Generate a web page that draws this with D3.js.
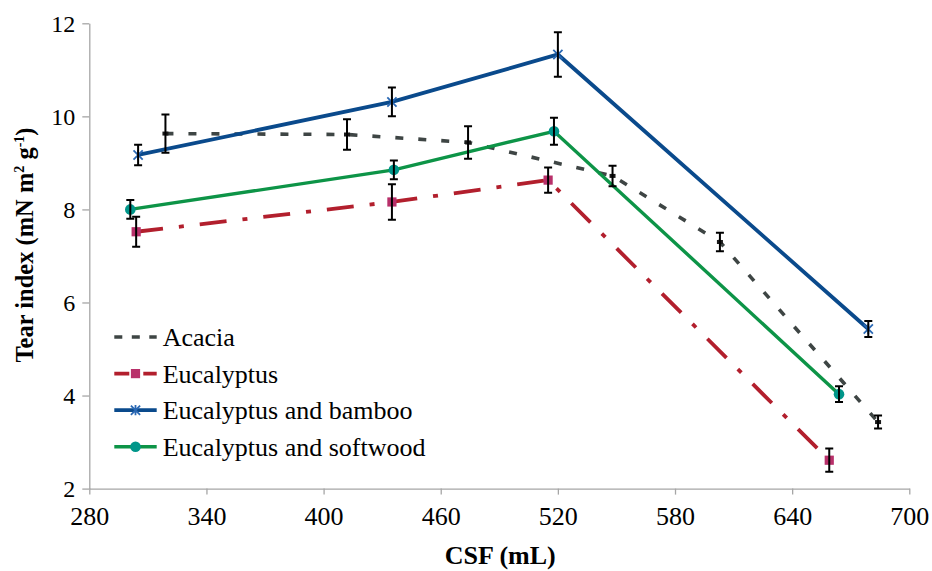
<!DOCTYPE html>
<html>
<head>
<meta charset="utf-8">
<script src="https://cdn.jsdelivr.net/npm/d3@7"></script>
<style>
  html, body { margin: 0; padding: 0; background: #fff; }
  svg { display: block; font-family: "Liberation Serif", "Times New Roman", serif; }
</style>
</head>
<body>
<svg id="chart" width="932" height="571"></svg>
<script>
// Tear index against CSF for four pulp furnishes (mean ± error)
const seriesNames = ["Acacia", "Eucalyptus", "Eucalyptus and bamboo", "Eucalyptus and softwood"];

const acaciaCsf  = [319, 412, 474, 548, 603, 684];
const acaciaTear = [9.63, 9.61, 9.44, 8.72, 7.30, 3.43];
const acaciaErr  = [0.41, 0.33, 0.35, 0.22, 0.20, 0.14];

const eucCsf  = [304, 435, 515, 659];
const eucTear = [7.52, 8.16, 8.63, 2.61];
const eucErr  = [0.32, 0.38, 0.27, 0.25];

const bambooCsf  = [305, 435, 520, 679];
const bambooTear = [9.17, 10.31, 11.33, 5.43];
const bambooErr  = [0.22, 0.31, 0.48, 0.17];

const softCsf  = [301, 436, 518, 664];
const softTear = [8.00, 8.85, 9.68, 4.03];
const softErr  = [0.20, 0.20, 0.29, 0.17];

const xTicks = [280, 340, 400, 460, 520, 580, 640, 700];
const yTicks = [2, 4, 6, 8, 10, 12];

const styles = [
  { line: "#3e4544", width: 3.6, dash: "8,15", legendDash: "8,9.5", marker: "dash", fill: "#1a1a1a" },
  { line: "#b21f2d", width: 3.8, dash: "27,16,5,16", legendDash: "15,14,14", marker: "square", fill: "#b8306a" },
  { line: "#0a4a8c", width: 3.8, dash: null, legendDash: null, marker: "star", fill: "#2a68b4" },
  { line: "#0d9447", width: 3.4, dash: null, legendDash: null, marker: "circle", fill: "#00968a" }
];

const data = [
  [acaciaCsf, acaciaTear, acaciaErr],
  [eucCsf, eucTear, eucErr],
  [bambooCsf, bambooTear, bambooErr],
  [softCsf, softTear, softErr]
].map(([xs, ys, es], i) => ({
  name: seriesNames[i],
  style: styles[i],
  points: xs.map((x, j) => ({ x, y: ys[j], e: es[j] }))
}));

const svg = d3.select("#chart");
const x = d3.scaleLinear().domain([280, 700]).range([89.3, 909.3]);
const y = d3.scaleLinear().domain([2, 12]).range([488.6, 23.3]);
const axisColor = "#a6a6a6";

// axes
const gx = svg.append("g").attr("transform", `translate(0,${y(2)})`)
  .call(d3.axisBottom(x).tickValues(xTicks).tickSize(6).tickPadding(12).tickSizeOuter(0));
const gy = svg.append("g").attr("transform", `translate(${x(280)},0)`)
  .call(d3.axisLeft(y).tickValues(yTicks).tickSize(7).tickPadding(7).tickSizeOuter(0));
[gx, gy].forEach(g => {
  g.select(".domain").attr("stroke", axisColor).attr("stroke-width", 1.3);
  g.selectAll(".tick line").attr("stroke", axisColor).attr("stroke-width", 1.3);
  g.selectAll(".tick text").attr("fill", "#000")
    .style("font-family", "'Liberation Serif', 'Times New Roman', serif");
});
gx.selectAll(".tick text").style("font-size", "26px").attr("dy", "0.71em");
gy.selectAll(".tick text").style("font-size", "24px").attr("dy", "0.34em");

// axis titles
svg.append("text")
  .attr("x", (x(280) + x(700)) / 2 + 1).attr("y", 564)
  .attr("text-anchor", "middle").attr("font-weight", "bold").attr("font-size", 26)
  .text("CSF (mL)");

const yt = svg.append("text")
  .attr("transform", `translate(33,245) rotate(-90)`)
  .attr("text-anchor", "middle").attr("font-weight", "bold").attr("font-size", 24.5);
yt.append("tspan").text("Tear index (mN m");
yt.append("tspan").attr("dy", -9).attr("font-size", 14).text("2");
yt.append("tspan").attr("dy", 9).text(" g");
yt.append("tspan").attr("dy", -9).attr("font-size", 14).text("-1");
yt.append("tspan").attr("dy", 9).text(")");

// series lines
const lineGen = d3.line().x(d => x(d.x)).y(d => y(d.y));
const plot = svg.append("g");
data.forEach(s => {
  plot.append("path").datum(s.points)
    .attr("d", lineGen)
    .attr("fill", "none")
    .attr("stroke", s.style.line)
    .attr("stroke-width", s.style.width)
    .attr("stroke-dasharray", s.style.dash);
});

function drawMarker(g, kind, cx, cy, fill) {
  if (kind === "square") {
    g.append("rect").attr("x", cx - 4.6).attr("y", cy - 4.6).attr("width", 9.2).attr("height", 9.2).attr("fill", fill);
  } else if (kind === "circle") {
    g.append("circle").attr("cx", cx).attr("cy", cy).attr("r", 5.3).attr("fill", fill);
  } else if (kind === "star") {
    const r = 4.6;
    g.append("path")
      .attr("d", `M${cx - r},${cy - r}L${cx + r},${cy + r}M${cx - r},${cy + r}L${cx + r},${cy - r}M${cx},${cy - r - 0.5}L${cx},${cy + r + 0.5}`)
      .attr("stroke", fill).attr("stroke-width", 1.8).attr("fill", "none");
  } else if (kind === "dash") {
    g.append("rect").attr("x", cx - 3).attr("y", cy - 2).attr("width", 6).attr("height", 4).attr("fill", fill);
  }
}

// markers and error bars
data.forEach(s => {
  const g = svg.append("g");
  s.points.forEach(p => {
    drawMarker(g, s.style.marker, x(p.x), y(p.y), s.style.fill);
  });
  s.points.forEach(p => {
    const cx = x(p.x), y0 = y(p.y - p.e), y1 = y(p.y + p.e);
    g.append("path")
      .attr("d", `M${cx},${y0}L${cx},${y1}M${cx - 4},${y0}L${cx + 4},${y0}M${cx - 4},${y1}L${cx + 4},${y1}`)
      .attr("stroke", "#000").attr("stroke-width", 2).attr("fill", "none");
  });
});

// legend
const legend = svg.append("g");
const legendTop = 337, legendStep = 36.6, lx0 = 114.3, lx1 = 156.7;
data.forEach((s, i) => {
  const ly = legendTop + i * legendStep;
  legend.append("line")
    .attr("x1", lx0).attr("x2", lx1).attr("y1", ly).attr("y2", ly)
    .attr("stroke", s.style.line).attr("stroke-width", s.style.width)
    .attr("stroke-dasharray", s.style.legendDash);
  if (s.style.marker !== "dash") drawMarker(legend, s.style.marker, (lx0 + lx1) / 2, ly, s.style.fill);
  legend.append("text")
    .attr("x", 162.7).attr("y", ly + 9)
    .attr("font-size", 26)
    .text(s.name);
});
</script>
</body>
</html>
